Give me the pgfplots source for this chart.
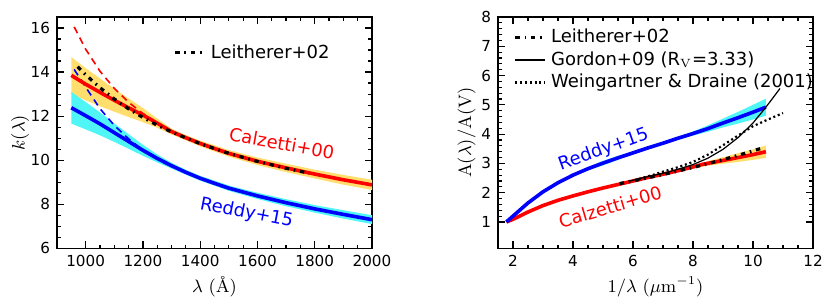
\documentclass[border=0pt]{standalone}
\usepackage[no-math]{fontspec}
\setmainfont{DejaVu Sans}
\newfontfamily\lmr{Latin Modern Roman}
\usepackage{pgfplots}
\pgfplotsset{compat=1.18}
\definecolor{bandyel}{RGB}{255,222,110}
\definecolor{bandcyan}{RGB}{80,245,245}
\pgfplotsset{
  common/.style={
    scale only axis, width=157.5pt, height=115.65pt,
    anchor=south west,
    tick align=inside,
    axis line style={line width=0.8pt},
    tick style={line width=0.6pt, black},
    major tick length=3.5pt, minor tick length=1.8pt,
    tick label style={font=\fontsize{7.6}{9}\selectfont},
    /pgf/number format/assume math mode=true,
    label style={font=\fontsize{9}{10}\selectfont},
    xlabel style={at={(axis description cs:0.5,-0.167)}, anchor=center},
    legend cell align=left,
    legend image code/.code={\draw[#1] (0pt,0pt) -- (15pt,0pt);},
  },
  leith/.style={black, line width=1.6pt, line cap=butt, dash pattern=on 2.2pt off 2.4pt on 0.8pt off 2.4pt},
}
\begin{document}
\begin{tikzpicture}
\path[use as bounding box] (0,0) rectangle (415.5pt,153.5pt);
% ---------------- left panel ----------------
\begin{axis}[common, at={(28.5pt,29.35pt)},
  xmin=900, xmax=2000, ymin=6, ymax=16.5,
  xtick={1000,1200,1400,1600,1800,2000}, minor x tick num=3,
  ytick={6,8,10,12,14,16}, minor y tick num=3,
  /pgf/number format/set thousands separator={},
  xlabel={$\lambda$ {\lmr(Å)}},
  ylabel={$k(\lambda)$},
  ylabel style={at={(axis description cs:-0.117,0.5)}, anchor=center},
  legend style={draw=none, fill=none, font=\fontsize{9}{10}\selectfont,
    at={(axis description cs:0.35,0.845)}, anchor=west},
]
% Calzetti band
\addplot[fill=bandyel, draw=none, forget plot] coordinates {
 (950,14.68) (1000,14.18) (1050,13.71) (1100,13.24) (1150,12.80) (1200,12.37)
 (1250,11.89) (1300,11.43) (1350,11.14) (1400,10.89) (1500,10.46) (1600,10.12)
 (1700,9.84) (1800,9.57) (1900,9.33) (2000,9.11)
 (2000,8.65) (1900,8.89) (1800,9.17) (1700,9.46) (1600,9.78) (1500,10.16)
 (1400,10.63) (1350,10.90) (1300,11.17) (1250,11.47) (1200,11.73) (1150,11.96)
 (1100,12.20) (1050,12.45) (1000,12.72) (950,13.02)} -- cycle;
% Reddy band
\addplot[fill=bandcyan, draw=none, forget plot] coordinates {
 (950,13.10) (1000,12.64) (1050,12.17) (1100,11.67) (1150,11.18) (1200,10.70)
 (1250,10.26) (1300,9.88) (1350,9.56) (1400,9.29) (1500,8.85) (1600,8.52)
 (1700,8.23) (1800,7.96) (1900,7.73) (2000,7.50)
 (2000,7.10) (1900,7.35) (1800,7.62) (1700,7.91) (1600,8.24) (1500,8.61)
 (1400,9.07) (1350,9.34) (1300,9.62) (1250,9.90) (1200,10.20) (1150,10.52)
 (1100,10.83) (1050,11.13) (1000,11.40) (950,11.66)} -- cycle;
% dashed extrapolations
\addplot[red, line width=0.8pt, dash pattern=on 3.5pt off 2.5pt, forget plot] coordinates {
 (960,16.05) (1000,15.04) (1050,14.04) (1100,13.26) (1150,12.63) (1200,12.12) (1250,11.70)};
\addplot[blue, line width=0.8pt, dash pattern=on 3.5pt off 2.5pt, forget plot] coordinates {
 (960,14.12) (1000,13.32) (1050,12.34) (1100,11.58) (1150,10.97) (1180,10.66)};
% Calzetti
\addplot[red, line width=1.8pt, forget plot] coordinates {
 (950,13.85) (1000,13.45) (1050,13.08) (1100,12.72) (1150,12.38) (1200,12.05)
 (1250,11.68) (1300,11.30) (1350,11.02) (1400,10.76) (1450,10.53) (1500,10.31)
 (1600,9.95) (1700,9.65) (1800,9.37) (1900,9.11) (2000,8.88)};
% Reddy
\addplot[blue, line width=1.8pt, forget plot] coordinates {
 (950,12.38) (1000,12.02) (1050,11.65) (1100,11.25) (1150,10.85) (1200,10.45)
 (1250,10.08) (1300,9.75) (1350,9.45) (1400,9.18) (1450,8.95) (1500,8.73)
 (1600,8.38) (1700,8.07) (1800,7.79) (1900,7.54) (2000,7.30)};
% Leitherer
\addplot[leith] coordinates {
 (972,14.24) (1000,13.88) (1050,13.29) (1100,12.78) (1150,12.33) (1200,11.94)
 (1250,11.59) (1300,11.28) (1400,10.75) (1500,10.31) (1600,9.945) (1700,9.633) (1780,9.41)};
\addlegendentry{Leitherer+02}
\node[rotate=-10, text=red, font=\fontsize{9}{10}\selectfont] at (axis cs:1685,10.77) {Calzetti+00};
\node[rotate=-11, text=blue, font=\fontsize{9}{10}\selectfont] at (axis cs:1562,7.59) {Reddy+15};
\end{axis}
% ---------------- right panel ----------------
\begin{axis}[common, at={(249pt,29.35pt)},
  xmin=1.5, xmax=12, ymin=0.1, ymax=8,
  xtick={2,4,6,8,10,12}, minor x tick num=3,
  ytick={1,2,3,4,5,6,7,8}, minor y tick num=4,
  xlabel={$1/\lambda\ (\mu\mathrm{m}^{-1})$},
  ylabel={$\mathrm{A}(\lambda)/\mathrm{A}(\mathrm{V})$},
  ylabel style={at={(axis description cs:-0.0995,0.5)}, anchor=center},
  legend style={draw=none, fill=none, font=\fontsize{9}{10}\selectfont,
    at={(axis description cs:0.03,0.985)}, anchor=north west, row sep=-1pt},
]
\addplot[fill=bandyel, draw=none, forget plot] coordinates {
 (4.5,2.06) (5,2.21) (5.5,2.33) (6,2.44) (6.5,2.55) (7,2.66) (7.5,2.78) (8,2.93)
 (8.5,3.08) (9,3.21) (9.5,3.35) (10,3.48) (10.43,3.61)
 (10.43,3.19) (10,3.12) (9.5,3.05) (9,2.99) (8.5,2.92) (8,2.83) (7.5,2.72)
 (7,2.60) (6.5,2.49) (6,2.36) (5.5,2.23) (5,2.11) (4.5,2.00)} -- cycle;
\addplot[fill=bandcyan, draw=none, forget plot] coordinates {
 (4.5,2.87) (5,3.09) (5.5,3.26) (6,3.41) (6.5,3.57) (7,3.735) (7.5,3.91) (8,4.09)
 (8.5,4.30) (9,4.53) (9.5,4.76) (10,5.00) (10.43,5.21)
 (10.43,4.63) (10,4.50) (9.5,4.36) (9,4.23) (8.5,4.08) (8,3.95) (7.5,3.81)
 (7,3.645) (6.5,3.49) (6,3.31) (5.5,3.12) (5,2.93) (4.5,2.77)} -- cycle;
\addplot[red, line width=1.8pt, forget plot] coordinates {
 (1.78,1.0) (2,1.09) (2.5,1.34) (3,1.56) (3.5,1.74) (4,1.89) (4.5,2.03) (5,2.16)
 (5.5,2.28) (6,2.40) (6.5,2.52) (7,2.63) (7.5,2.75) (8,2.88) (8.33,2.97)
 (9,3.10) (9.5,3.20) (10,3.30) (10.43,3.40)};
\addplot[blue, line width=1.8pt, forget plot] coordinates {
 (1.78,1.0) (2,1.2) (2.5,1.65) (3,2.03) (3.5,2.34) (4,2.60) (4.5,2.82) (5,3.01)
 (5.5,3.19) (6,3.36) (6.5,3.53) (7,3.69) (7.5,3.86) (8,4.02) (8.5,4.19)
 (9,4.38) (9.5,4.56) (10,4.75) (10.43,4.92)};
\addplot[leith] coordinates {
 (5.556,2.31) (6,2.403) (6.5,2.51) (7,2.62) (7.5,2.739) (8,2.862) (8.5,2.992)
 (9,3.13) (9.5,3.274) (10,3.427) (10.31,3.526)};
\addlegendentry{Leitherer+02}
\addplot[black, line width=0.6pt] coordinates {
 (5.9,2.40) (6.5,2.55) (7,2.66) (7.5,2.80) (8,2.96) (8.5,3.18) (9,3.48)
 (9.5,3.88) (10,4.38) (10.43,4.92) (10.9,5.56)};
\addlegendentry{Gordon+09 (R$_{\mathrm{V}}$=3.33)}
\addplot[black, line width=1.1pt, dash pattern=on 1pt off 1.4pt] coordinates {
 (6.2,2.47) (6.7,2.62) (7,2.72) (7.5,2.87) (8,3.05) (8.5,3.30) (9,3.62)
 (9.5,3.95) (10,4.27) (10.5,4.50) (11,4.72)};
\addlegendentry{Weingartner \& Draine (2001)}
\node[rotate=19.7, text=blue, font=\fontsize{9}{10}\selectfont] at (axis cs:5.02,3.47) {Reddy+15};
\node[rotate=16.4, text=red, font=\fontsize{9}{10}\selectfont] at (axis cs:5.24,1.52) {Calzetti+00};
\end{axis}
\end{tikzpicture}
\end{document}
